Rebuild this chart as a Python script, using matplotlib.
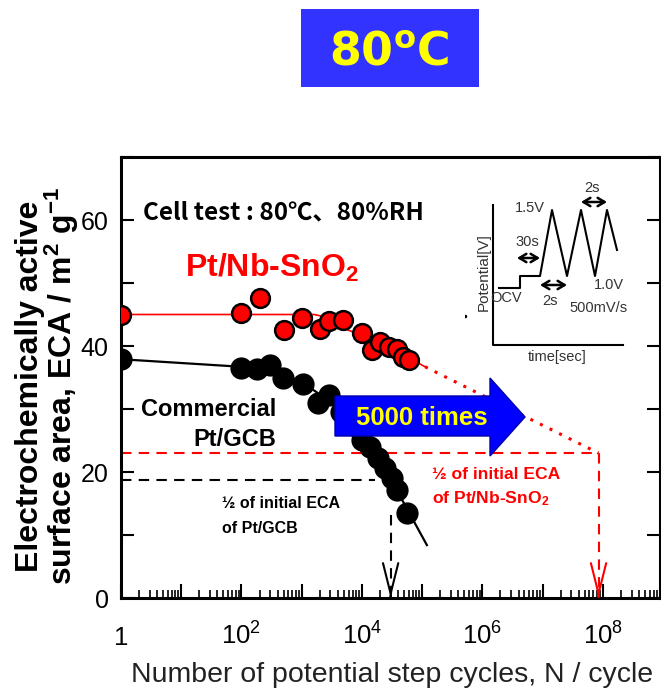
import numpy as np
import matplotlib.pyplot as plt
from matplotlib.patches import Polygon, Rectangle
from matplotlib.ticker import FixedLocator, LogLocator, NullFormatter

plt.rcParams['font.family'] = ['Liberation Sans', 'DejaVu Sans']
plt.rcParams['mathtext.default'] = 'regular'

W, H = 661, 688  # output size in pixels

# Pt/Nb-SnO2 (red) measured ECA vs cycles
red_n = [1, 100, 203, 507, 1000, 2000, 2870, 4900, 9900, 14500, 20000, 28000, 37600, 48500, 61000]
red_eca = [44.9, 45.3, 47.6, 42.5, 44.4, 42.7, 43.9, 44.1, 42.0, 39.4, 40.7, 39.9, 39.6, 38.2, 37.7]

# Commercial Pt/GCB (black)
blk_n = [1, 100, 178, 295, 490, 1050, 1860, 2880, 4470, 7080, 10000, 13500, 18600, 24000, 31600, 38000, 56000]
blk_eca = [37.9, 36.5, 36.3, 37.0, 34.9, 34.0, 31.0, 32.2, 29.5, 27.5, 25.1, 24.0, 22.2, 20.6, 19.0, 17.1, 13.5]

# trend lines drawn through the data
red_fit_n = [1, 1600, 3200, 5600, 20000, 63000, 112000]
red_fit_eca = [45.0, 45.0, 44.4, 42.6, 40.6, 38.0, 36.7]
red_ext_n = [112000, 8.5e7]
red_ext_eca = [36.7, 23.0]
blk_fit_n = [1, 100, 316, 1000, 3160, 10000, 31600, 120000]
blk_fit_eca = [37.9, 36.7, 36.0, 34.3, 31.0, 26.0, 18.5, 8.4]

# half of initial ECA guides
red_half_eca = 23.0
red_half_n = 8.5e7
blk_half_eca = 18.7
blk_half_end = 16400
blk_half_n = 30000
blk_drop_top = 13.2

# axis ticks
x_exps = list(range(0, 9))
y_major = [0, 20, 40, 60]
y_minor = [10, 30, 50, 70]

# inset waveform (pixel coordinates of the little schematic)
wave_x = [499, 520, 520, 540, 552, 567, 581, 595, 607, 617]
wave_y = [288, 288, 276, 276, 210, 276, 210, 276, 210, 250]


def P(x, y):
    # pixel (top-left origin) -> figure fraction
    return x / W, 1 - y / H


fig = plt.figure(figsize=(W / 100, H / 100), dpi=100)
ax = fig.add_axes([121 / W, 1 - 598 / H, (660 - 121) / W, (598 - 157) / H])

# guides
ax.plot([1, red_half_n, red_half_n], [red_half_eca, red_half_eca, 0.6], color='red',
        ls=(0, (5, 3.5)), lw=1.5, zorder=1)
ax.plot([1, blk_half_end], [blk_half_eca, blk_half_eca], color='black', ls=(0, (5, 3.5)), lw=1.5, zorder=1)
ax.plot([blk_half_n, blk_half_n], [blk_drop_top, 0.6], color='black', ls=(0, (5, 3.5)), lw=1.5, zorder=1)
for xn, col in [(red_half_n, 'red'), (blk_half_n, 'black')]:
    ax.annotate('', xy=(xn, 0), xytext=(xn, 0.3),
                arrowprops=dict(arrowstyle='->,head_length=2.2,head_width=0.55', color=col, lw=1.5,
                                shrinkA=0, shrinkB=0), zorder=4)

# trend lines
ax.plot(red_fit_n, red_fit_eca, color='red', lw=1.2, zorder=2)
ax.plot(red_ext_n, red_ext_eca, color='red', ls=(0, (1, 2.5)), lw=2.2, zorder=2)
ax.plot(blk_fit_n, blk_fit_eca, color='black', lw=1.6, zorder=2)

# data
ax.plot(blk_n, blk_eca, 'o', ms=14.5, mfc='black', mec='black', mew=1.5, zorder=3)
ax.plot(red_n, red_eca, 'o', ms=13.5, mfc='red', mec='black', mew=1.8, zorder=3)

ax.set_xscale('log')
ax.set_xlim(1, 10 ** 8.95)
ax.set_ylim(0, 70)

ax.xaxis.set_major_locator(FixedLocator([10.0 ** e for e in x_exps]))
ax.xaxis.set_minor_locator(LogLocator(base=10, subs=np.arange(2, 10), numticks=100))
ax.xaxis.set_minor_formatter(NullFormatter())
ax.tick_params(axis='x', which='major', direction='in', length=10, width=1.5, labelbottom=False)
ax.tick_params(axis='x', which='minor', direction='in', length=6, width=1.2)
ax.set_yticks(y_major)
ax.set_yticks(y_minor, minor=True)
ax.tick_params(axis='y', which='both', direction='in', length=9.5, width=1.5, right=True,
               labelsize=18, pad=9)
for sp in ax.spines.values():
    sp.set_linewidth(2.2)

for e in x_exps:
    if e % 2:
        continue
    lab = '1' if e == 0 else '$10^{%d}$' % e
    ax.text(10.0 ** e, -47 / 441, lab, transform=ax.get_xaxis_transform(),
            ha='center', va='baseline', fontsize=18.5)

fig.text(*P(392, 682), 'Number of potential step cycles, N / cycle', ha='center', va='baseline',
         fontsize=20.5, color='#222222')
fig.text(*P(48, 386), 'Electrochemically active\nsurface area, ECA / m$^2$ g$^{-1}$',
         rotation=90, ha='center', va='center', fontsize=23, fontweight='bold', linespacing=0.94)

# title box
fig.add_artist(Rectangle(P(301, 87), 178 / W, 78 / H, transform=fig.transFigure,
                         facecolor='#3333FF', edgecolor='none'))
fig.text(*P(389, 65), '80$^{o}$C', ha='center', va='baseline', fontsize=33, fontweight='bold',
         color='#FFFF00', family=['DejaVu Sans'])

# annotations
fig.text(*P(143, 219), 'Cell test : 80℃、80%RH', ha='left', va='baseline', fontsize=17.5,
         fontweight='bold', family=['Noto Sans CJK JP', 'DejaVu Sans'])
fig.text(*P(185, 277), 'Pt/Nb-SnO$_2$', ha='left', va='baseline', fontsize=23, fontweight='bold',
         color='red')
fig.text(*P(276, 416), 'Commercial', ha='right', va='baseline', fontsize=17, fontweight='bold')
fig.text(*P(276, 446), 'Pt/GCB', ha='right', va='baseline', fontsize=17, fontweight='bold')
fig.text(*P(222, 508), '½ of initial ECA', ha='left', va='baseline', fontsize=11.5, fontweight='bold')
fig.text(*P(222, 533), 'of Pt/GCB', ha='left', va='baseline', fontsize=11.5, fontweight='bold')
fig.text(*P(432, 479), '½ of initial ECA', ha='left', va='baseline', fontsize=12.6, fontweight='bold',
         color='red')
fig.text(*P(432, 503), 'of Pt/Nb-SnO$_2$', ha='left', va='baseline', fontsize=12.6, fontweight='bold',
         color='red')

# big arrow
arrow_px = [(335, 396), (490, 396), (490, 378), (525, 417), (490, 456), (490, 436), (335, 436)]
fig.add_artist(Polygon([P(x, y) for x, y in arrow_px], closed=True, transform=fig.transFigure,
                       facecolor='#0000FF', edgecolor='#0000AA', lw=1))
fig.text(*P(422, 425), '5000 times', ha='center', va='baseline', fontsize=18.5, fontweight='bold',
         color='#FFFF00')

# inset schematic of the potential program
axi = fig.add_axes([465 / W, 1 - 365 / H, 175 / W, 185 / H])
axi.set_xlim(465, 640)
axi.set_ylim(365, 180)
axi.set_axis_off()
axi.plot([493, 493, 623], [205, 345, 345], color='black', lw=1.5)
axi.plot(wave_x, wave_y, color='black', lw=1.5)
for x0, x1, yy in [(517, 540, 258), (540, 567, 285), (581, 607, 202)]:
    axi.annotate('', xy=(x0, yy), xytext=(x1, yy),
                 arrowprops=dict(arrowstyle='<->,head_length=0.5,head_width=0.3', color='black', lw=1.8,
                                 shrinkA=0, shrinkB=0))
tc = '#333333'
axi.text(530, 208, '1.5V', ha='center', va='center', fontsize=10.5, color=tc)
axi.text(527, 242, '30s', ha='center', va='center', fontsize=10.5, color=tc)
axi.text(592, 188, '2s', ha='center', va='center', fontsize=10.5, color=tc)
axi.text(506, 298, 'OCV', ha='center', va='center', fontsize=10.5, color=tc)
axi.text(550, 301, '2s', ha='center', va='center', fontsize=10.5, color=tc)
axi.text(609, 285, '1.0V', ha='center', va='center', fontsize=10.5, color=tc)
axi.text(599, 308, '500mV/s', ha='center', va='center', fontsize=10.5, color=tc)
axi.text(484, 272, 'Potential[V]', ha='center', va='center', rotation=90, fontsize=11, color=tc)
axi.text(557, 357, 'time[sec]', ha='center', va='center', fontsize=10.5, color=tc)
axi.plot([465], [316], 'o', ms=1.5, color='black')

fig.savefig('out.png', dpi=100)
